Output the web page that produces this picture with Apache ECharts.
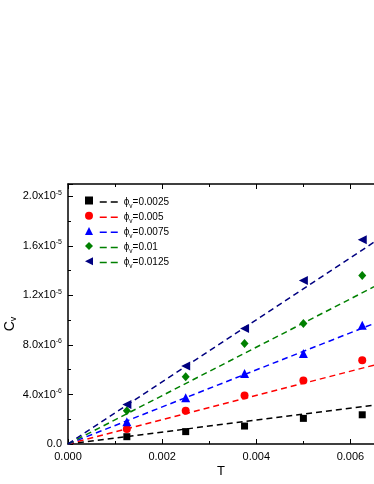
<!DOCTYPE html>
<html>
<head>
<meta charset="utf-8">
<script src="https://cdn.jsdelivr.net/npm/echarts@6/dist/echarts.min.js"></script>
<style>
  html, body { margin: 0; padding: 0; background: #fff; }
  #main { width: 374px; height: 484px; }
</style>
</head>
<body>
<div id="main"></div>
<script>
// measured temperatures
var tValues = [0.00125, 0.0025, 0.00375, 0.005, 0.00625];
// Cv for each volume fraction
var cv0025 = [0.59e-6, 1.0e-6, 1.45e-6, 2.07e-6, 2.36e-6];
var cv005 = [1.21e-6, 2.69e-6, 3.92e-6, 5.13e-6, 6.77e-6];
var cv0075 = [1.8e-6, 3.73e-6, 5.7e-6, 7.31e-6, 9.59e-6];
var cv01 = [2.69e-6, 5.43e-6, 8.12e-6, 9.73e-6, 1.36e-5];
var cv0125 = [3.2e-6, 6.29e-6, 9.33e-6, 1.32e-5, 1.65e-5];
// linear fits, end points [T0, T1] and [Cv0, Cv1]
var fitT = [0, 0.0065];
var fit0025 = [0, 3.14e-6];
var fit005 = [0, 6.37e-6];
var fit0075 = [0, 9.73e-6];
var fit01 = [0, 1.27e-5];
var fit0125 = [0, 1.63e-5];

var phiNames = ['0.0025', '0.005', '0.0075', '0.01', '0.0125'];
var colors = ['#000000', '#ff0000', '#0000ff', '#008000', '#000080'];
// the legend of the last fit is drawn green in the original
var legendLineColors = ['#000000', '#ff0000', '#0000ff', '#008000', '#008000'];
var symbols = ['rect', 'circle', 'triangle', 'diamond', 'triangle'];
var legendIcons = ['rect', 'circle', 'triangle', 'diamond', 'path://M0,5L10,0L10,10Z'];
var symRot = [0, 0, 0, 0, 90];
var symSize = [7, 8, 9, [8, 9], 9];
var cvData = [cv0025, cv005, cv0075, cv01, cv0125];
var fitData = [fit0025, fit005, fit0075, fit01, fit0125];

var chart = echarts.init(document.getElementById('main'));

function pairs(xs, ys) {
  return xs.map(function (x, i) { return [x, ys[i]]; });
}

// y tick label like 4.0x10^-6
function sciLabel(v) {
  if (Math.abs(v) < 1e-12) return '{b|0.0}';
  var s = v.toExponential(1).split('e');
  return '{b|' + s[0] + 'x10}{s|' + parseInt(s[1], 10) + '}';
}

var series = [];
phiNames.forEach(function (p, i) {
  series.push({
    name: 's' + p,
    type: 'scatter',
    data: pairs(tValues, cvData[i]),
    symbol: symbols[i],
    symbolRotate: symRot[i],
    symbolSize: symSize[i],
    itemStyle: { color: colors[i], opacity: 1 },
    z: 3
  });
  series.push({
    name: 'phi' + p,
    type: 'line',
    data: pairs(fitT, fitData[i]),
    showSymbol: false,
    symbol: 'none',
    lineStyle: { color: colors[i], width: 1.5, type: [6, 4] },
    itemStyle: { color: colors[i] },
    z: 2
  });
});

var labelFont = 'Liberation Sans, Arial, sans-serif';

var option = {
  animation: false,
  backgroundColor: '#fff',
  textStyle: { fontFamily: labelFont },
  grid: { left: 68, top: 184, right: 0, bottom: 40, outerBoundsMode: 'none', containLabel: false },
  legend: [{
    orient: 'vertical',
    left: 85,
    top: 196.5,
    padding: 0,
    itemWidth: 8,
    itemHeight: 8,
    itemGap: 7.2,
    selectedMode: false,
    data: phiNames.map(function (p, i) { return { name: 's' + p, icon: legendIcons[i] }; }),
    formatter: function () { return ''; },
    textStyle: { fontSize: 1 }
  }, {
    orient: 'vertical',
    left: 99,
    top: 196.5,
    padding: 0,
    itemWidth: 19,
    itemHeight: 14,
    itemGap: 1.9,
    selectedMode: false,
    itemStyle: { opacity: 0 },
    data: phiNames.map(function (p, i) {
      return { name: 'phi' + p, lineStyle: { color: legendLineColors[i], width: 1.5, type: [7, 4] } };
    }),
    formatter: function (name) {
      return '{a|ϕ}{v|v}{a|=' + name.slice(3) + '}';
    },
    textStyle: {
      fontFamily: labelFont,
      rich: {
        a: { fontSize: 10, color: '#000', fontFamily: labelFont, lineHeight: 15.2 },
        v: { fontSize: 6.5, color: '#000', fontFamily: labelFont, verticalAlign: 'bottom', lineHeight: 11 }
      }
    }
  }],
  xAxis: [{
    type: 'value',
    min: 0,
    max: 0.0065,
    interval: 0.002,
    name: 'T',
    nameLocation: 'middle',
    nameGap: 21,
    nameMoveOverlap: false,
    nameTextStyle: { fontSize: 13, color: '#000', fontFamily: labelFont },
    axisLine: { lineStyle: { color: '#000', width: 1.5 } },
    axisTick: { inside: true, length: 5, lineStyle: { color: '#000' } },
    minorTick: { show: true, splitNumber: 2, length: 3, lineStyle: { color: '#000' } },
    axisLabel: {
      color: '#000', fontSize: 11, fontFamily: labelFont, margin: 7,
      showMaxLabel: false,
      formatter: function (v) { return v.toFixed(3); }
    },
    splitLine: { show: false }
  }, {
    type: 'value',
    position: 'top',
    min: 0,
    max: 0.0065,
    interval: 0.002,
    axisLine: { lineStyle: { color: '#000', width: 1.5 } },
    axisTick: { inside: true, length: 5, lineStyle: { color: '#000' } },
    minorTick: { show: true, splitNumber: 2, length: 3, lineStyle: { color: '#000' } },
    axisLabel: { show: false },
    splitLine: { show: false }
  }],
  yAxis: {
    type: 'value',
    min: 0,
    max: 2.1e-5,
    interval: 4e-6,
    name: '{c|C}{v|v}',
    nameLocation: 'middle',
    nameGap: 50,
    nameMoveOverlap: false,
    nameRotate: 90,
    nameTextStyle: {
      padding: [0, 20, 0, 0],
      rich: {
        c: { fontSize: 14, color: '#000', fontFamily: labelFont, lineHeight: 16 },
        v: { fontSize: 9, color: '#000', fontFamily: labelFont, verticalAlign: 'bottom', lineHeight: 12 }
      }
    },
    axisLine: { lineStyle: { color: '#000', width: 1.5 } },
    axisTick: { inside: true, length: 5, lineStyle: { color: '#000' } },
    minorTick: { show: true, splitNumber: 2, length: 3, lineStyle: { color: '#000' } },
    axisLabel: {
      margin: 6,
      showMaxLabel: false,
      formatter: sciLabel,
      rich: {
        b: { fontSize: 11, color: '#000', fontFamily: labelFont, lineHeight: 14 },
        s: { fontSize: 7, color: '#000', fontFamily: labelFont, verticalAlign: 'top', lineHeight: 14 }
      }
    },
    splitLine: { show: false }
  },
  series: series
};

chart.setOption(option);
</script>
</body>
</html>
